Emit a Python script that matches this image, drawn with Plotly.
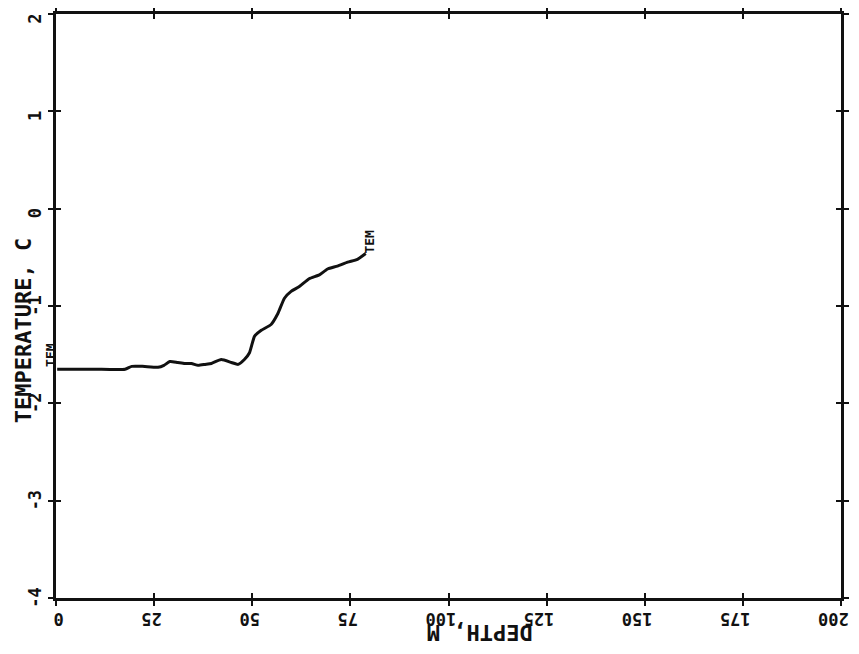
import plotly.graph_objects as go

# temperature profile
DEPTH_M = [0.3, 5, 10, 17.6, 19.3, 22, 26, 27.5, 29, 31, 32.8, 34.5, 36.2, 38, 39.6,
           42.1, 44.7, 46.4, 48, 49.3, 50.6, 52.3, 54.8, 56.5, 58.2, 59.9, 62,
           64.5, 67.1, 69.2, 71.7, 74.3, 76.8, 78.9]
TEMP_C = [-1.65, -1.65, -1.65, -1.65, -1.62, -1.62, -1.63, -1.61, -1.57, -1.58, -1.59,
          -1.59, -1.61, -1.60, -1.59, -1.55, -1.58, -1.60, -1.55, -1.48, -1.31,
          -1.25, -1.19, -1.08, -0.92, -0.85, -0.80, -0.72, -0.68, -0.62, -0.59,
          -0.55, -0.52, -0.46]

X_TICKS = [0, 25, 50, 75, 100, 125, 150, 175, 200]
X_TICK_TEXT = ["0", "25", "50", "75", "100", "125", "150", "175", "200"]
Y_TICKS = [-4, -3, -2, -1, 0, 1, 2]
Y_TICK_TEXT = ["-4", "-3", "-2", "-1", "0", "1", "2"]

SERIES_LABEL = "TEM"
X_TITLE = "DEPTH, M"
Y_TITLE = "TEMPERATURE, C"

MONO = "DejaVu Sans Mono"
INK = "#111111"
NBSP = "\u00a0"


def pad(labels, width):
    # the old plotter anchors every label at its first character, so pad
    # the short ones to a common width to get the same alignment
    return [t + NBSP * (width - len(t)) for t in labels]


fig = go.Figure()
fig.add_trace(go.Scatter(
    x=DEPTH_M, y=TEMP_C, mode="lines",
    line=dict(color=INK, width=3, shape="spline", smoothing=0.5),
    showlegend=False, hoverinfo="skip",
))
# invisible twin so the ticks cross the frame (outside + inside)
fig.add_trace(go.Scatter(x=[0], y=[0], xaxis="x2", yaxis="y2",
                         mode="markers", marker=dict(opacity=0),
                         showlegend=False, hoverinfo="skip"))

axis_common = dict(showgrid=False, zeroline=False, showline=True,
                   linecolor=INK, linewidth=3, tickcolor=INK, tickwidth=2,
                   ticklen=5, mirror="ticks", automargin=False)

fig.update_layout(
    width=859, height=654,
    # page body adds 8px, so the frame lands at 54..842 x 13..599
    margin=dict(l=48, r=26, t=6, b=64, autoexpand=False),
    paper_bgcolor="white", plot_bgcolor="white",
    font=dict(family=MONO, color=INK, weight="bold"),
    xaxis=dict(range=[0, 200], tickvals=X_TICKS, ticktext=pad(X_TICK_TEXT, 3),
               ticks="outside", tickangle=180, ticklabelstandoff=4,
               ticklabelshift=-23, ticklabeloverflow="allow",
               tickfont=dict(size=17, family=MONO, weight="bold"), **axis_common),
    yaxis=dict(range=[-4, 2], tickvals=Y_TICKS, ticktext=pad(Y_TICK_TEXT, 2),
               ticks="outside", tickangle=-90, ticklabelstandoff=0,
               ticklabelshift=2, ticklabeloverflow="allow",
               tickfont=dict(size=17, family=MONO, weight="bold"), **axis_common),
    xaxis2=dict(range=[0, 200], overlaying="x", tickvals=X_TICKS, showticklabels=False,
                ticks="inside", **axis_common),
    yaxis2=dict(range=[-4, 2], overlaying="y", tickvals=Y_TICKS, showticklabels=False,
                ticks="inside", **axis_common),
)

fig.add_annotation(text=Y_TITLE, xref="paper", yref="paper", x=-0.042, y=0.457,
                   xanchor="center", yanchor="middle",
                   textangle=-90, showarrow=False,
                   font=dict(size=22, family=MONO, weight="bold"))
fig.add_annotation(text=X_TITLE, xref="paper", yref="paper", x=0.54, y=-0.058,
                   xanchor="center", yanchor="middle",
                   textangle=180, showarrow=False,
                   font=dict(size=22, family=MONO, weight="bold"))

# curve labels at both ends
fig.add_annotation(text=SERIES_LABEL, x=DEPTH_M[-1], y=TEMP_C[-1], textangle=-90,
                   xanchor="left", yanchor="bottom", showarrow=False,
                   xshift=-6, yshift=-2, font=dict(size=13, family=MONO, weight="bold"))
fig.add_annotation(text=SERIES_LABEL, x=DEPTH_M[0], y=TEMP_C[0], textangle=-90,
                   xanchor="right", yanchor="bottom", showarrow=False,
                   xshift=3, yshift=0, font=dict(size=13, family=MONO, weight="bold"))

fig.write_html("out.html")
